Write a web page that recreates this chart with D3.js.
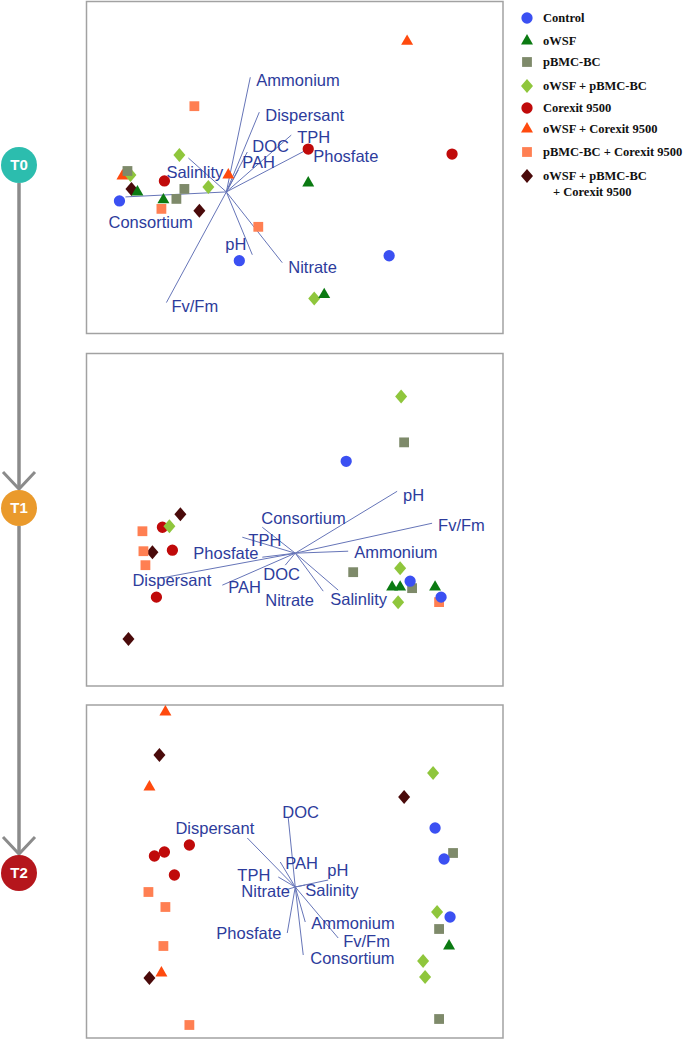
<!DOCTYPE html>
<html>
<head>
<meta charset="utf-8">
<script src="https://cdn.jsdelivr.net/npm/d3@7"></script>
<style>
  html,body{margin:0;padding:0;background:#fff;}
  svg{display:block;}
</style>
</head>
<body>
<svg id="chart" width="685" height="1040"></svg>
<script>
// ---------------- DATA ----------------
const groups = ["Control","oWSF","pBMC-BC","oWSF + pBMC-BC","Corexit 9500",
  "oWSF + Corexit 9500","pBMC-BC + Corexit 9500","oWSF + pBMC-BC + Corexit 9500"];
const groupColors = ["#3b50f2","#0b7a12","#7e8a6a","#8fc63c","#c00a0a","#ff4a0e","#ff7f52","#4a0a0a"];
const groupShapes = ["circle","triangle","square","diamond","circle","triangle","square","diamond"];
const timepoints = ["T0","T1","T2"];
const timeColors = ["#2cbdae","#ea9a2c","#b5161c"];

// sample scores: [group index, axis 1, axis 2]
const t0Points = [
  [0,-1.07,-0.09],[0,0.13,-0.69],[0,1.63,-0.64],
  [1,-0.89,0.00],[1,-0.63,-0.08],[1,0.82,0.09],[1,0.98,-1.03],
  [2,-0.99,0.21],[2,-0.42,0.03],[2,-0.50,-0.07],
  [3,-0.47,0.37],[3,-0.96,0.17],[3,-0.18,0.05],[3,0.88,-1.07],
  [4,0.82,0.43],[4,2.26,0.38],[4,-0.62,0.11],
  [5,1.81,1.51],[5,-1.04,0.16],[5,0.02,0.17],
  [6,-0.32,0.86],[6,-0.65,-0.17],[6,0.32,-0.35],
  [7,-0.95,0.03],[7,-0.27,-0.19]
];
const t1Points = [
  [0,0.51,0.92],[0,1.15,-0.28],[0,1.46,-0.44],
  [1,0.97,-0.34],[1,1.05,-0.34],[1,1.40,-0.34],
  [2,1.09,1.11],[2,0.58,-0.19],[2,1.17,-0.35],
  [3,1.06,1.57],[3,-1.26,0.27],[3,1.05,-0.15],[3,1.03,-0.49],
  [4,-1.33,0.26],[4,-1.23,0.03],[4,-1.39,-0.44],
  [6,-1.53,0.22],[6,-1.52,0.02],[6,-1.50,-0.12],[6,1.44,-0.49],
  [7,-1.15,0.39],[7,-1.43,0.01],[7,-1.67,-0.86]
];
const t2Points = [
  [0,1.40,0.59],[0,1.49,0.28],[0,1.55,-0.30],
  [1,1.54,-0.59],
  [2,1.58,0.34],[2,1.44,-0.42],[2,1.44,-1.32],
  [3,1.38,1.14],[3,1.42,-0.25],[3,1.28,-0.74],[3,1.30,-0.90],
  [4,-1.41,0.31],[4,-1.31,0.35],[4,-1.06,0.42],[4,-1.21,0.12],
  [5,-1.30,1.75],[5,-1.46,1.00],[5,-1.34,-0.86],
  [6,-1.47,-0.05],[6,-1.30,-0.20],[6,-1.32,-0.59],[6,-1.06,-1.38],
  [7,-1.36,1.32],[7,1.09,0.90],[7,-1.46,-0.91]
];

// environmental vectors: [name, end axis1, end axis2, label axis1, label axis2]
const t0Vectors = [
  ["Ammonium",0.24,1.15,0.30,1.12],
  ["Dispersant",0.33,0.80,0.39,0.77],
  ["TPH",0.65,0.57,0.71,0.55],
  ["DOC",0.21,0.40,0.26,0.46],
  ["PAH",0.12,0.22,0.16,0.30],
  ["Phosfate",0.82,0.43,0.87,0.36],
  ["Salinlity",-0.38,0.34,-0.60,0.20],
  ["Consortium",-1.01,-0.05,-1.18,-0.30],
  ["pH",0.26,-0.63,-0.01,-0.52],
  ["Nitrate",0.56,-0.71,0.62,-0.75],
  ["Fv/Fm",-0.60,-1.11,-0.55,-1.14]
];
const t1Vectors = [
  ["pH",1.02,0.62,1.08,0.58],
  ["Fv/Fm",1.37,0.30,1.43,0.28],
  ["Ammonium",0.53,0.02,0.59,0.01],
  ["Consortium",-0.33,0.26,-0.34,0.35],
  ["TPH",-0.53,0.16,-0.47,0.13],
  ["Phosfate",-0.33,-0.04,-1.02,0.00],
  ["Dispersant",-1.35,-0.25,-1.63,-0.27],
  ["PAH",-0.73,-0.32,-0.67,-0.34],
  ["DOC",-0.10,-0.12,-0.32,-0.21],
  ["Nitrate",0.28,-0.38,-0.30,-0.47],
  ["Salinlity",0.43,-0.37,0.35,-0.46]
];
const t2Vectors = [
  ["DOC",-0.07,0.69,-0.13,0.75],
  ["Dispersant",-0.48,0.49,-1.20,0.59],
  ["PAH",-0.15,0.25,-0.10,0.24],
  ["pH",0.33,0.07,0.32,0.17],
  ["TPH",-0.17,0.10,-0.58,0.12],
  ["Nitrate",-0.10,-0.03,-0.54,-0.04],
  ["Salinity",0.10,0.02,0.10,-0.03],
  ["Ammonium",0.10,-0.35,0.16,-0.36],
  ["Fv/Fm",0.43,-0.51,0.48,-0.54],
  ["Consortium",0.08,-0.68,0.15,-0.71],
  ["Phosfate",-0.08,-0.46,-0.79,-0.46]
];

// axis extents of each panel (plot units)
const t0XDomain = [-1.40, 2.77], t0YDomain = [-1.42, 1.91];
const t1XDomain = [-2.09, 2.08], t1YDomain = [-1.33, 2.00];
const t2XDomain = [-2.09, 2.08], t2YDomain = [-1.51, 1.82];

// ---------------- LAYOUT ----------------
const svg = d3.select("#chart");
const panelLayout = [
  {top:1.5, bottom:333.5, points:t0Points, vectors:t0Vectors, xd:t0XDomain, yd:t0YDomain},
  {top:353.5, bottom:686, points:t1Points, vectors:t1Vectors, xd:t1XDomain, yd:t1YDomain},
  {top:705, bottom:1038, points:t2Points, vectors:t2Vectors, xd:t2XDomain, yd:t2YDomain}
];
const left = 86.5, right = 503;

function symbolPath(shape){
  if(shape==="circle") return d3.symbol(d3.symbolCircle, 100)();
  if(shape==="square") return d3.symbol(d3.symbolSquare, 96)();
  if(shape==="triangle") return d3.symbol(d3.symbolTriangle, 62)();
  const p = d3.path();
  p.moveTo(0,-7); p.lineTo(6,0); p.lineTo(0,7); p.lineTo(-6,0); p.closePath();
  return p.toString();
}

panelLayout.forEach(pl => {
  const x = d3.scaleLinear().domain(pl.xd).range([left, right]);
  const y = d3.scaleLinear().domain(pl.yd).range([pl.bottom, pl.top]);
  const g = svg.append("g");
  g.append("rect")
    .attr("x", left).attr("y", pl.top)
    .attr("width", right-left).attr("height", pl.bottom-pl.top)
    .attr("fill","#fff").attr("stroke","#a2a2a2").attr("stroke-width",1.5);

  g.selectAll("line.vec").data(pl.vectors).enter().append("line")
    .attr("class","vec")
    .attr("x1", x(0)).attr("y1", y(0))
    .attr("x2", d=>x(d[1])).attr("y2", d=>y(d[2]))
    .attr("stroke","#6675b8").attr("stroke-width",1);

  const pts = pl.points.slice().sort((a,b)=>b[0]-a[0]);
  g.selectAll("path.pt").data(pts).enter().append("path")
    .attr("class","pt")
    .attr("d", d=>symbolPath(groupShapes[d[0]]))
    .attr("transform", d=>`translate(${x(d[1])},${y(d[2])})`)
    .attr("fill", d=>groupColors[d[0]]);

  g.selectAll("text.vl").data(pl.vectors).enter().append("text")
    .attr("class","vl")
    .attr("x", d=>x(d[3])).attr("y", d=>y(d[4]))
    .attr("dy","0.36em")
    .attr("font-family","'Liberation Sans', Arial, sans-serif")
    .attr("font-size","16.5px")
    .attr("fill","#2d3c9c")
    .text(d=>d[0]);
});

// ---------------- TIMELINE ----------------
const tl = svg.append("g");
const timePos = {T0:165, T1:508, T2:873};
const tx = 19, r = 18;
const stroke = "#8b8b8b";
for(let i=0;i<timepoints.length-1;i++){
  const y1 = timePos[timepoints[i]] + r, y2 = timePos[timepoints[i+1]] - r - 1;
  tl.append("line").attr("x1",tx).attr("x2",tx).attr("y1",y1).attr("y2",y2)
    .attr("stroke",stroke).attr("stroke-width",3.5);
  tl.append("polyline")
    .attr("points",`${tx-16},${y2-17} ${tx},${y2} ${tx+16},${y2-17}`)
    .attr("fill","none").attr("stroke",stroke).attr("stroke-width",3);
}
timepoints.forEach((t,i)=>{
  tl.append("circle").attr("cx",tx).attr("cy",timePos[t]).attr("r",r)
    .attr("fill",timeColors[i]);
  tl.append("text").attr("x",tx).attr("y",timePos[t]).attr("dy","0.36em")
    .attr("text-anchor","middle")
    .attr("font-family","'Liberation Sans', Arial, sans-serif")
    .attr("font-weight","bold").attr("font-size","15px")
    .attr("fill","#fff").text(t);
});

// ---------------- LEGEND ----------------
const legendRows = [18, 41, 62, 86, 108, 129, 152, 176];
const lg = svg.append("g");
const legendFont = "'Liberation Serif', 'Times New Roman', serif";
groups.forEach((name,i)=>{
  lg.append("path")
    .attr("d", symbolPath(groupShapes[i]))
    .attr("transform",`translate(527,${legendRows[i]})`)
    .attr("fill", groupColors[i]);
  const txt = lg.append("text")
    .attr("x",543).attr("y",legendRows[i]).attr("dy","0.35em")
    .attr("font-family",legendFont)
    .attr("font-weight","bold").attr("font-size","12.5px").attr("fill","#111");
  if(i===7){
    txt.text("oWSF + pBMC-BC");
    lg.append("text").attr("x",553).attr("y",legendRows[i]+16).attr("dy","0.35em")
      .attr("font-family",legendFont)
      .attr("font-weight","bold").attr("font-size","12.5px").attr("fill","#111")
      .text("+ Corexit 9500");
  } else {
    txt.text(name);
  }
});
</script>
</body>
</html>
